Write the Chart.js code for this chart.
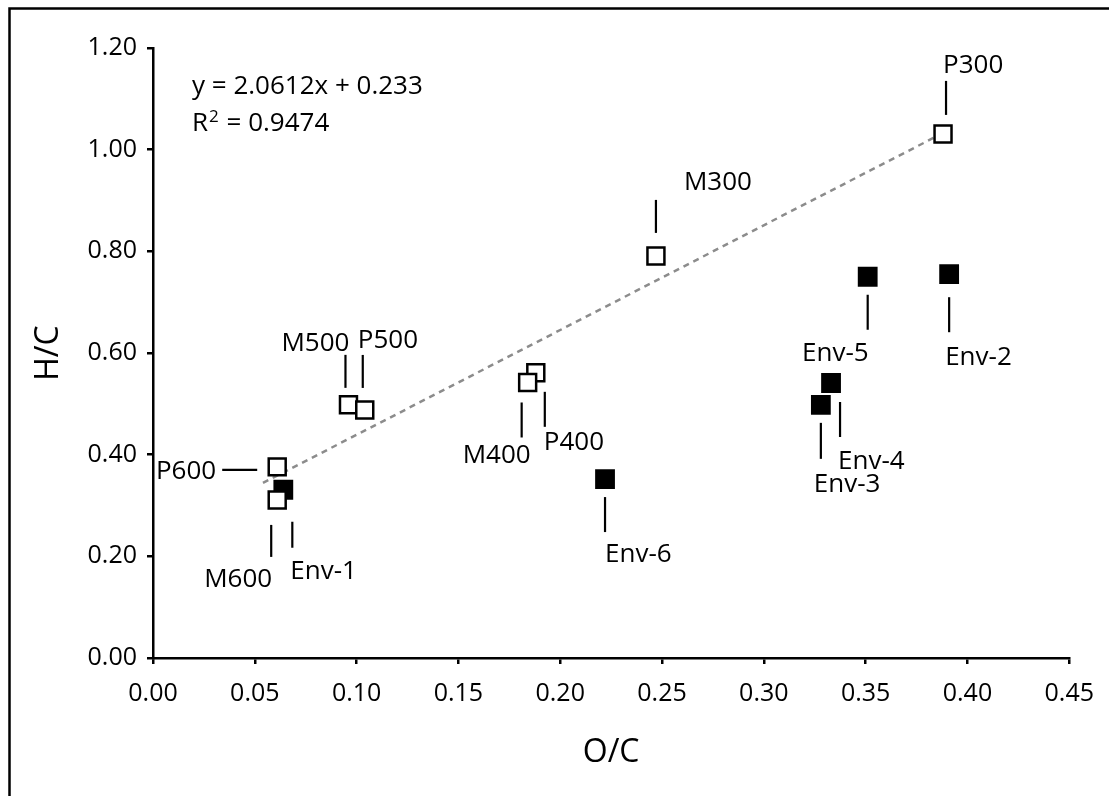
<!DOCTYPE html>
<html><head><meta charset="utf-8">
<script src="https://cdn.jsdelivr.net/npm/chart.js@4.4.1/dist/chart.umd.min.js"></script>
<style>html,body{margin:0;padding:0;background:#fff;}#wrap{position:relative;width:1109px;height:796px;}</style>
</head><body><div id="wrap"><canvas id="c" width="1109" height="796"></canvas></div>
<script>
// ---- data ----
const charNames = ['P300', 'M300', 'M500', 'P500', 'P400', 'M400', 'P600', 'M600'];
const charOC    = [0.388, 0.247, 0.096, 0.104, 0.188, 0.184, 0.061, 0.061];
const charHC    = [1.031, 0.791, 0.498, 0.488, 0.561, 0.542, 0.376, 0.311];

const envNames = ['Env-1', 'Env-2', 'Env-3', 'Env-4', 'Env-5', 'Env-6'];
const envOC    = [0.064, 0.391, 0.328, 0.333, 0.351, 0.222];
const envHC    = [0.331, 0.755, 0.498, 0.541, 0.750, 0.352];

const xTickValues = [0, 0.05, 0.10, 0.15, 0.20, 0.25, 0.30, 0.35, 0.40, 0.45];
const yTickValues = [0, 0.20, 0.40, 0.60, 0.80, 1.00, 1.20];

const trendSlope = 2.0612;
const trendIntercept = 0.233;
const trendRange = [0.054, 0.388];
const equationText = 'y = 2.0612x + 0.233';
const r2Text = '0.9474';

// ---- annotation layout (pixel offsets from each point) ----
const labelLayout = {
  'P300': {line: [3, -53, 3, -19], text: [0, -70, 'left']},
  'M300': {line: [0, -56, 0, -23], text: [28, -75, 'left']},
  'M500': {line: [-3, -50, -3, -17], text: [1, -63, 'right']},
  'P500': {line: [-2, -55, -2, -22], text: [-7, -71, 'left']},
  'P400': {line: [9, 19, 9, 54], text: [8, 68, 'left']},
  'M400': {line: [-6, 20, -6, 55], text: [3, 72, 'right']},
  'P600': {line: [-55, 3, -20, 3], text: [-61, 3, 'right']},
  'M600': {line: [-6, 25, -6, 57], text: [-5, 78, 'right']},
  'Env-1': {line: [9, 32, 9, 58], text: [7, 80, 'left']},
  'Env-2': {line: [0, 23, 0, 58], text: [-4, 82, 'left']},
  'Env-3': {line: [0, 18, 0, 54], text: [-7, 78, 'left']},
  'Env-4': {line: [9, 19, 9, 54], text: [7, 77, 'left']},
  'Env-5': {line: [0, 18, 0, 53], text: [1, 75, 'right']},
  'Env-6': {line: [0, 18, 0, 53], text: [0, 74, 'left']}
};

const FONT = "'Open Sans', 'DejaVu Sans', sans-serif";

const charData = charOC.map((x, i) => ({x: x, y: charHC[i], name: charNames[i]}));
const envData = envOC.map((x, i) => ({x: x, y: envHC[i], name: envNames[i]}));
const trendData = trendRange.map(x => ({x: x, y: trendSlope * x + trendIntercept}));

const annotPlugin = {
  id: 'annot',
  afterDatasetsDraw(chart) {
    const ctx = chart.ctx;
    const xs = chart.scales.x, ys = chart.scales.y;
    ctx.save();
    ctx.strokeStyle = '#000';
    ctx.fillStyle = '#000';
    ctx.lineWidth = 2.2;
    ctx.font = '26px ' + FONT;
    ctx.textBaseline = 'alphabetic';
    const all = charData.concat(envData);
    all.forEach(p => {
      const L = labelLayout[p.name];
      if (!L) return;
      const px = xs.getPixelForValue(p.x), py = ys.getPixelForValue(p.y);
      ctx.beginPath();
      ctx.moveTo(px + L.line[0], py + L.line[1]);
      ctx.lineTo(px + L.line[2], py + L.line[3]);
      ctx.stroke();
      ctx.textAlign = L.text[2];
      ctx.fillText(p.name, px + L.text[0], py + L.text[1] + 9);
    });
    // equation
    const ex = chart.chartArea.left + 39;
    ctx.textAlign = 'left';
    ctx.font = '26px ' + FONT;
    ctx.fillText(equationText, ex, 94);
    ctx.fillText('R', ex, 131);
    const rw = ctx.measureText('R').width;
    ctx.font = '17px ' + FONT;
    ctx.fillText('2', ex + rw + 1, 122);
    const w2 = ctx.measureText('2').width;
    ctx.font = '26px ' + FONT;
    ctx.fillText(' = ' + r2Text, ex + rw + w2 + 2, 131);
    ctx.restore();
  },
  afterDraw(chart) {
    const ctx = chart.ctx;
    ctx.save();
    ctx.strokeStyle = '#000';
    ctx.lineWidth = 2.5;
    ctx.beginPath();
    ctx.moveTo(9.5, 796);
    ctx.lineTo(9.5, 8.5);
    ctx.lineTo(1109, 8.5);
    ctx.stroke();
    ctx.restore();
  }
};

new Chart(document.getElementById('c'), {
  type: 'scatter',
  data: {
    datasets: [
      {data: charData, pointStyle: 'rect', pointRadius: 12, pointHoverRadius: 12,
       backgroundColor: '#fff', borderColor: '#000', borderWidth: 2.5},
      {data: envData, pointStyle: 'rect', pointRadius: 14, pointHoverRadius: 14,
       backgroundColor: '#000', borderColor: '#000', borderWidth: 0},
      {type: 'line', data: trendData, borderColor: '#8c8c8c', borderWidth: 2.5,
       borderDash: [6, 5], pointRadius: 0, fill: false, showLine: true}
    ]
  },
  options: {
    responsive: false,
    devicePixelRatio: 1,
    animation: false,
    layout: {padding: {left: 0, top: 48, right: 37, bottom: 0}},
    plugins: {legend: {display: false}, tooltip: {enabled: false}},
    scales: {
      x: {
        type: 'linear', min: 0, max: 0.45,
        afterBuildTicks: s => { s.ticks = xTickValues.map(v => ({value: v})); },
        afterFit: s => { s.height = 138; },
        ticks: {callback: v => Number(v).toFixed(2), color: '#000', font: {family: FONT, size: 25}, padding: 15, maxRotation: 0, autoSkip: false},
        grid: {drawOnChartArea: false, drawTicks: true, tickLength: 6, color: '#000', lineWidth: 2.5},
        border: {color: '#000', width: 2.5},
        title: {display: true, text: 'O/C', color: '#000', font: {family: FONT, size: 32}, padding: {top: 0, bottom: 24}}
      },
      y: {
        type: 'linear', min: 0, max: 1.2,
        afterBuildTicks: s => { s.ticks = yTickValues.map(v => ({value: v})); },
        afterFit: s => { s.width = 153; },
        ticks: {callback: v => Number(v).toFixed(2), color: '#000', font: {family: FONT, size: 25}, padding: 10, autoSkip: false},
        grid: {drawOnChartArea: false, drawTicks: true, tickLength: 6, color: '#000', lineWidth: 2.5},
        border: {color: '#000', width: 2.5},
        title: {display: true, text: 'H/C', color: '#000', font: {family: FONT, size: 32}, padding: {top: 30, bottom: 0}}
      }
    }
  },
  plugins: [annotPlugin]
});
</script></body></html>
